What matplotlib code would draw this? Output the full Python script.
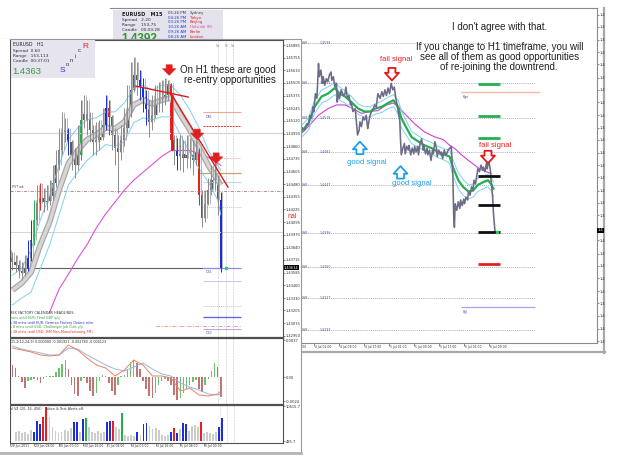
import numpy as np
import matplotlib
matplotlib.use("Agg")
import matplotlib.pyplot as plt
from matplotlib.patches import Rectangle

plt.rcParams['font.family'] = ['DejaVu Sans']

# ===================== DATA =====================
# ---- Left window: EURUSD H1 (one candle per two hourly bars) ----
h1_open0 = 1.4370
h1_close = [1.4373, 1.4369, 1.4366, 1.4360, 1.4358, 1.4363, 1.4373, 1.4392, 1.4412, 1.4429,
            1.4434, 1.4430, 1.4431, 1.4436, 1.4449, 1.4467, 1.4482, 1.4501, 1.4503, 1.4491,
            1.4477, 1.4467, 1.4477, 1.4513, 1.4519, 1.4513, 1.4503, 1.4491, 1.4493, 1.4496,
            1.4508, 1.4525, 1.4516, 1.4498, 1.4485, 1.4480, 1.4493, 1.4505, 1.4521, 1.4543,
            1.4558, 1.4553, 1.4546, 1.4536, 1.4524, 1.4511, 1.4518, 1.4530, 1.4534, 1.4534,
            1.4538, 1.4549, 1.4493, 1.4482, 1.4476, 1.4478, 1.4474, 1.4477, 1.4477, 1.4472,
            1.4480, 1.4437, 1.4414, 1.4428, 1.4442, 1.4452, 1.4454, 1.4432, 1.4363]
h1_high = [1.4381, 1.4379, 1.4376, 1.4371, 1.4369, 1.4376, 1.4392, 1.4412, 1.4432, 1.4447,
           1.4449, 1.4444, 1.4447, 1.4452, 1.4467, 1.4482, 1.4505, 1.4521, 1.4515, 1.4505,
           1.4493, 1.4485, 1.4508, 1.4533, 1.4538, 1.4533, 1.4521, 1.4508, 1.4511, 1.4513,
           1.4525, 1.4538, 1.4533, 1.4518, 1.4505, 1.4498, 1.4508, 1.4525, 1.4548, 1.4571,
           1.4576, 1.4571, 1.4563, 1.4555, 1.4543, 1.4533, 1.4538, 1.4548, 1.4551, 1.4553,
           1.4555, 1.4553, 1.4550, 1.4498, 1.4495, 1.4498, 1.4493, 1.4498, 1.4495, 1.4493,
           1.4493, 1.4485, 1.4442, 1.4442, 1.4454, 1.4467, 1.4472, 1.4457, 1.4440]
h1_low = [1.4363, 1.4361, 1.4359, 1.4353, 1.4351, 1.4355, 1.4360, 1.4370, 1.4387, 1.4407,
          1.4422, 1.4420, 1.4422, 1.4427, 1.4432, 1.4445, 1.4462, 1.4478, 1.4491, 1.4477,
          1.4462, 1.4454, 1.4462, 1.4472, 1.4505, 1.4498, 1.4491, 1.4477, 1.4477, 1.4482,
          1.4493, 1.4503, 1.4498, 1.4482, 1.4467, 1.4439, 1.4472, 1.4487, 1.4500, 1.4516,
          1.4541, 1.4538, 1.4533, 1.4521, 1.4508, 1.4496, 1.4503, 1.4515, 1.4521, 1.4521,
          1.4528, 1.4533, 1.4482, 1.4467, 1.4462, 1.4462, 1.4460, 1.4464, 1.4464, 1.4457,
          1.4467, 1.4427, 1.4405, 1.4410, 1.4427, 1.4437, 1.4442, 1.4417, 1.4359]
h1_kind = ("gggggg" "bb" "G" "g" "r" "gggggggg" "b" "ggg" "G" "ggggggg" "b" "r"
           "ggggggggg" "bbb" "ggggggg" "r" "g" "b" "gggggg" "r" "gggggg" "b")

rib_pos = [1, 4, 7, 10, 13, 16, 19, 22, 25, 28, 31, 34, 37, 40, 43, 46, 49, 52, 55, 58, 61, 64, 67, 68]
rib_mid = [1.4341, 1.4348, 1.4359, 1.4387, 1.4410, 1.4442, 1.4469, 1.4482, 1.4493, 1.4498, 1.4505, 1.4504,
           1.4511, 1.4528, 1.4533, 1.4529, 1.4533, 1.4535, 1.4518, 1.4503, 1.4485, 1.4467, 1.4452, 1.4447]
rib_up = [1.4356, 1.4363, 1.4382, 1.4412, 1.4437, 1.4467, 1.4493, 1.4505, 1.4513, 1.4515, 1.4521, 1.4521,
          1.4530, 1.4545, 1.4548, 1.4543, 1.4548, 1.4548, 1.4538, 1.4523, 1.4505, 1.4482, 1.4467, 1.4462]
rib_dn = [1.4326, 1.4333, 1.4339, 1.4363, 1.4387, 1.4417, 1.4447, 1.4460, 1.4472, 1.4480, 1.4488, 1.4486,
          1.4491, 1.4510, 1.4515, 1.4513, 1.4516, 1.4516, 1.4498, 1.4480, 1.4464, 1.4450, 1.4432, 1.4417]

h1_mag_pos = [13, 16, 19, 22, 25, 28, 31, 34, 37, 40, 43, 46, 49, 52, 55, 58, 61, 64, 66, 68]
h1_mag_val = [1.4319, 1.4342, 1.4357, 1.4373, 1.4387, 1.4404, 1.4418, 1.4430, 1.4442, 1.4452,
              1.4460, 1.4468, 1.4476, 1.4482, 1.4482, 1.4482, 1.4479, 1.4475, 1.4471, 1.4467]

tl1_pos, tl1_val = [40.7, 57.5], [1.4547, 1.4536]
tl2_pos, tl2_val = [51.7, 70.3], [1.4541, 1.4445]
tl3_pos, tl3_val = [52.3, 52.3], [1.4538, 1.4482]
h1_arrow_pos = [51.4, 60.4, 66.5]
h1_arrow_val = [1.4558, 1.4493, 1.4469]

h1_axis = [1.45885, 1.45755, 1.45630, 1.45505, 1.45375, 1.45245, 1.45120, 1.44990, 1.44860,
           1.44735, 1.44605, 1.44480, 1.44355, 1.44225, 1.44095, 1.43970, 1.43840, 1.43715,
           1.43585, 1.43460, 1.43330, 1.43205, 1.43075, 1.42950]
h1_bid = 1.43634
h1_tick_pos = [-2, 6, 14, 22, 30, 38, 46, 54, 62]
h1_tick_labels = ["28 Jun 2011", "29 Jun 08:00", "30 Jun 00:00", "30 Jun 16:00", "1 Jul 08:00",
                  "4 Jul 00:00", "4 Jul 16:00", "5 Jul 08:00", "6 Jul 00:00"]
day_sep_pos = [67.1, 69.7, 71.9]
day_sep_lab = ["Sa", "N", "Sa"]

macd_hist = [0.0014, 0.0012, 0.0009, 0.0001, -0.0005, -0.0011, -0.0004, -0.0003, -0.0002, -0.0003,
             -0.0006, -0.0002, 0.0001, 0.0001, 0.0001, 0.0005, 0.0009, 0.0013, 0.0017, 0.0008,
             -0.0008, -0.0017, -0.0019, -0.0004, -0.0001, -0.0006, -0.0014, -0.0019, -0.0016, -0.0004,
             0.0002, 0.0001, -0.0006, -0.0014, -0.0018, -0.0008, 0.0001, 0.0002, 0.0008, 0.0015,
             0.0017, 0.0014, 0.0008, -0.0004, -0.0012, -0.0019, -0.0021, -0.0016, -0.0008, -0.0004,
             -0.0002, -0.0004, -0.0008, -0.0018, -0.0023, -0.0021, -0.0016, -0.0012, -0.0008, -0.0005,
             -0.0003, -0.0012, -0.0015, -0.0008, -0.0002, 0.0006, 0.0014, 0.0010, -0.0020]
macd_line_pos = [1, 4, 7, 10, 13, 16, 19, 22, 25, 28, 31, 34, 37, 40, 43, 46, 49, 52, 55, 58, 61, 64, 67, 68]
macd_main = [0.0029, 0.0027, 0.0025, 0.0022, 0.0021, 0.0022, 0.0032, 0.0027, 0.0019, 0.0012, 0.0009, 0.0001,
             0.0007, 0.0017, 0.0012, 0.0001, 0.0001, -0.0001, -0.0014, -0.0011, -0.0018, -0.0019, -0.0017, -0.0014]
macd_signal = [0.0031, 0.0028, 0.0026, 0.0024, 0.0022, 0.0022, 0.0029, 0.0028, 0.0022, 0.0017, 0.0012, 0.0008,
               0.0006, 0.0010, 0.0014, 0.0008, 0.0003, 0.0001, -0.0006, -0.0010, -0.0013, -0.0017, -0.0018, -0.0017]

volume = [2700, 3000, 2400, 2700, 2100, 3300, 2700, 6000, 5100, 7200,
          10200, 7200, 4200, 3000, 2400, 2700, 3300, 3000, 3900, 5700,
          5700, 2700, 6600, 6900, 4200, 2700, 2400, 3000, 2400, 2700,
          5700, 6000, 6000, 4200, 3600, 8400, 1800, 1500, 1800, 1500,
          2700, 1800, 5100, 5400, 4500, 3600, 3900, 3300, 1800, 1500,
          1800, 2700, 3900, 2400, 3600, 5400, 5100, 3000, 4500, 4800,
          4200, 5700, 2400, 2700, 2400, 2100, 2700, 4200, 6900]
vol_kind = ("gggggg" "bbb" "rr" "gggggggg" "bb" "g" "b" "G" "gggggg" "bb" "r" "gg" "G" "gggg"
            "b" "g" "bb" "ggggggg" "b" "r" "b" "g" "bb" "gggg" "r" "ggggg" "bb")

# ---- Right window: EURUSD M15 (bar index, 0 = 4 Jul 01:00) ----
m15_pos = [-18, -15, -12, -9, -7, -5, -3, -1, 0, 2, 4, 6, 7, 9, 11, 12, 14, 16, 18, 20,
           22, 23, 25, 27, 29, 30, 31, 33, 35, 38, 40, 41, 43, 45, 47, 48, 50, 53, 55, 56,
           58, 59, 61, 63, 65, 67, 69, 70, 72, 74, 76, 78, 80, 82, 85, 87, 89, 91, 93, 95,
           97, 99, 101, 103, 105, 106, 108, 110, 111, 112, 114, 116, 117, 119, 121, 122, 124, 126, 128, 129,
           131, 133, 134, 136, 138, 140, 141, 143, 145, 146, 148, 150, 152, 153, 155, 157, 158, 160, 162, 163,
           165, 167, 169, 170, 172, 174, 176, 178, 179, 180, 181, 183, 185, 187, 188, 190, 192, 193, 195, 197,
           198, 200, 202, 204, 205, 207, 209, 210, 212, 214, 216, 217, 219, 221, 222, 224, 226, 227, 229, 230, 232]
m15_close = [1.4503, 1.4508, 1.4505, 1.4512, 1.4511, 1.4521, 1.4518, 1.4530, 1.4525, 1.4544,
             1.4539, 1.4576, 1.4562, 1.4569, 1.4555, 1.4562, 1.4553, 1.4560, 1.4557, 1.4564,
             1.4567, 1.4558, 1.4562, 1.4551, 1.4555, 1.4535, 1.4544, 1.4539, 1.4548, 1.4542,
             1.4544, 1.4551, 1.4539, 1.4542, 1.4532, 1.4535, 1.4525, 1.4528, 1.4509, 1.4500,
             1.4505, 1.4514, 1.4509, 1.4519, 1.4516, 1.4521, 1.4507, 1.4512, 1.4521, 1.4525,
             1.4528, 1.4532, 1.4530, 1.4544, 1.4539, 1.4546, 1.4541, 1.4548, 1.4542, 1.4550,
             1.4544, 1.4555, 1.4548, 1.4551, 1.4539, 1.4535, 1.4525, 1.4516, 1.4495, 1.4479,
             1.4486, 1.4491, 1.4480, 1.4488, 1.4484, 1.4489, 1.4479, 1.4486, 1.4480, 1.4488,
             1.4482, 1.4488, 1.4479, 1.4491, 1.4496, 1.4484, 1.4489, 1.4480, 1.4486, 1.4479,
             1.4484, 1.4473, 1.4484, 1.4480, 1.4493, 1.4486, 1.4477, 1.4484, 1.4479, 1.4482,
             1.4475, 1.4484, 1.4479, 1.4480, 1.4484, 1.4486, 1.4488, 1.4459, 1.4417, 1.4402,
             1.4427, 1.4420, 1.4429, 1.4422, 1.4431, 1.4425, 1.4432, 1.4427, 1.4434, 1.4431,
             1.4440, 1.4436, 1.4445, 1.4441, 1.4452, 1.4448, 1.4459, 1.4464, 1.4461, 1.4468,
             1.4463, 1.4466, 1.4461, 1.4470, 1.4464, 1.4473, 1.4463, 1.4452, 1.4434, 1.4417, 1.4397]

ma_pos = [-18, -7, 1, 10, 18, 27, 33, 40, 48, 57, 65, 72, 78, 87, 95, 102, 108, 112,
          119, 125, 134, 142, 151, 159, 168, 174, 178, 185, 191, 198, 204, 210, 217, 223, 227, 230]
ma_green = [1.4502, 1.4512, 1.4530, 1.4541, 1.4544, 1.4550, 1.4544, 1.4541, 1.4535, 1.4528, 1.4525, 1.4525,
            1.4528, 1.4530, 1.4534, 1.4537, 1.4530, 1.4518, 1.4507, 1.4498, 1.4493, 1.4489, 1.4486, 1.4482,
            1.4479, 1.4477, 1.4466, 1.4452, 1.4445, 1.4440, 1.4441, 1.4447, 1.4450, 1.4452, 1.4448, 1.4443]
ma_up = [1.4508, 1.4518, 1.4537, 1.4548, 1.4551, 1.4556, 1.4551, 1.4547, 1.4541, 1.4533, 1.4530, 1.4530,
         1.4533, 1.4536, 1.4540, 1.4543, 1.4537, 1.4526, 1.4514, 1.4504, 1.4499, 1.4495, 1.4492, 1.4488,
         1.4485, 1.4484, 1.4474, 1.4460, 1.4453, 1.4447, 1.4448, 1.4454, 1.4457, 1.4458, 1.4455, 1.4450]
ma_dn = [1.4496, 1.4505, 1.4523, 1.4534, 1.4537, 1.4543, 1.4537, 1.4534, 1.4529, 1.4522, 1.4519, 1.4519,
         1.4522, 1.4524, 1.4528, 1.4530, 1.4522, 1.4508, 1.4499, 1.4491, 1.4487, 1.4483, 1.4480, 1.4476,
         1.4473, 1.4470, 1.4457, 1.4443, 1.4436, 1.4432, 1.4434, 1.4440, 1.4443, 1.4445, 1.4441, 1.4435]
m15_mag_pos = [-18, -7, 6, 18, 29, 40, 50, 61, 72, 82, 93, 102, 108, 116, 129, 142, 155, 166, 174,
               180, 189, 198, 206, 212, 221, 227]
m15_mag_val = [1.4500, 1.4509, 1.4521, 1.4528, 1.4532, 1.4532, 1.4528, 1.4523, 1.4525, 1.4526, 1.4532,
               1.4534, 1.4530, 1.4523, 1.4512, 1.4503, 1.4498, 1.4495, 1.4489, 1.4486, 1.4479, 1.4473,
               1.4468, 1.4464, 1.4461, 1.4459]
ssr_levels = [1.4598, 1.4555, 1.4518, 1.4482, 1.4447, 1.4396, 1.4360, 1.4327, 1.4293]
green_marks = [1.4554, 1.4520, 1.4497]
black_marks = [1.4456, 1.4426, 1.4397]
red_marks = [1.4363]
m15_axis = [1.4628, 1.4615, 1.4601, 1.4588, 1.4575, 1.4561, 1.4548, 1.4535, 1.4521, 1.4508, 1.4495,
            1.4481, 1.4468, 1.4455, 1.4441, 1.4428, 1.4415, 1.4388, 1.4374, 1.4361, 1.4348,
            1.4334, 1.4321, 1.4308, 1.4294, 1.4281]
m15_bid = 1.4399
m15_tick_pos = [-32, 0, 32, 64, 96, 128, 160, 192, 224]
m15_tick_labels = ["3 Jul 17:00", "4 Jul 01:00", "4 Jul 09:00", "4 Jul 17:00", "5 Jul 01:00",
                   "5 Jul 09:00", "5 Jul 17:00", "6 Jul 01:00", "6 Jul 09:00"]
fail_pos, fail_val = [100, 223], [1.4558, 1.4470]
good_pos, good_val = [59, 111], [1.4493, 1.4467]

# ===================== LAYOUT HELPERS =====================
W, H = 625, 469
fig = plt.figure(figsize=(W / 100, H / 100), dpi=100)
fig.patch.set_facecolor('white')
ARIAL = 'Liberation Sans'
TINY = 2.6
TIME = 2.2


def add_px(x0, y0, x1, y1, z):
    return fig.add_axes([x0 / W, 1 - y1 / H, (x1 - x0) / W, (y1 - y0) / H], zorder=z)


def overlay(z):
    ov = add_px(0, 0, W, H, z)
    ov.set_xlim(0, W)
    ov.set_ylim(H, 0)
    ov.set_axis_off()
    return ov


# ===================== RIGHT WINDOW (M15) =====================
ov0 = overlay(0)
ov0.plot([604, 604], [8, 353], color='#a8a8a8', lw=1.6)
ov0.plot([280, 604.8], [352.5, 352.5], color='#a8a8a8', lw=1.6)

ax_r = add_px(110, 8, 597, 343, 1)
ax_r.set_xlim(-261, 362.6)
ax_r.set_ylim(1.4279, 1.4635)
ax_r.spines['left'].set_visible(False)
for s in ('top', 'right', 'bottom'):
    ax_r.spines[s].set_color('#8a8a8a')
    ax_r.spines[s].set_linewidth(0.8)
ax_r.yaxis.tick_right()
ax_r.set_yticks(m15_axis)
ax_r.set_yticklabels(['1.4'] * len(m15_axis))
ax_r.tick_params(axis='y', labelsize=TINY, length=1.5, width=0.4, pad=0.6, colors='#303030')
ax_r.set_xticks(m15_tick_pos)
ax_r.set_xticklabels([])
ax_r.tick_params(axis='x', length=2, width=0.4, color='#303030')
for p, lab in zip(m15_tick_pos, m15_tick_labels):
    ax_r.text(p + 1, -0.013, lab, transform=ax_r.get_xaxis_transform(), ha='left', va='center',
              fontsize=TIME, color='#303030', clip_on=False)

for v in ssr_levels:
    ax_r.hlines(v, -261, 283, colors='#9a9a9a', linestyles=(0, (1, 1.3)), lw=0.6)
    ax_r.text(-15, v, 'SSR', fontsize=2.3, color='#5050a0', va='center', ha='left')
    ax_r.text(7, v, f'{v:.4f}', fontsize=2.3, color='#5050a0', va='center', ha='left')

ax_r.hlines(1.4546, 189, 289, colors='#f4b8a8', lw=1.0)
ax_r.text(190, 1.4543, 'Kgri', fontsize=2.3, color='#5050a0', va='top')
ax_r.hlines(1.4317, 189, 283, colors='#a0a8e8', lw=0.9)
ax_r.text(190, 1.4314, 'Pgl.', fontsize=2.3, color='#5050a0', va='top')

ax_r.plot(m15_mag_pos, m15_mag_val, color='#d040d8', lw=0.8)
ax_r.plot(ma_pos, ma_up, color='#80d0f0', lw=0.7)
ax_r.plot(ma_pos, ma_dn, color='#80d0f0', lw=0.7)
ax_r.plot(ma_pos, ma_green, color='#22b050', lw=1.6)
ax_r.plot(m15_pos, m15_close, color='#6c6c88', lw=1.15)

ax_r.hlines(green_marks, 210, 238, colors='#22b050', lw=2.0)
ax_r.hlines(black_marks, 210, 238, colors='#101010', lw=2.0)
ax_r.hlines(red_marks, 210, 238, colors='#e02020', lw=2.0)
ax_r.plot([234], [1.4397], 's', ms=2, color='#20d050')
ax_r.text(1.002, m15_bid, '1.4', transform=ax_r.get_yaxis_transform(), fontsize=TINY, color='white',
          va='center', ha='left', bbox=dict(boxstyle='square,pad=0.15', fc='black', ec='none'))

simple = 'simple,head_length=0.55,head_width=1.0,tail_width=0.5'
for p, v in zip(fail_pos, fail_val):
    ax_r.annotate('', xy=(p, v), xytext=(0, 9), textcoords='offset points',
                  arrowprops=dict(arrowstyle=simple, fc='white', ec='#e01818', lw=1.3,
                                  mutation_scale=10, shrinkA=0, shrinkB=0))
for p, v in zip(good_pos, good_val):
    ax_r.annotate('', xy=(p, v), xytext=(0, -9), textcoords='offset points',
                  arrowprops=dict(arrowstyle=simple, fc='white', ec='#1ea0e8', lw=1.3,
                                  mutation_scale=10, shrinkA=0, shrinkB=0))
ax_r.text(106, 1.4580, 'fail signal', color='#f02020', fontsize=5.5, family=ARIAL, ha='center', va='center')
ax_r.text(232, 1.4489, 'fail signal', color='#f02020', fontsize=5.5, family=ARIAL, ha='center', va='center')
ax_r.text(68, 1.4471, 'good signal', color='#1ea0e8', fontsize=5.5, family=ARIAL, ha='center', va='center')
ax_r.text(125, 1.4448, 'good signal', color='#1ea0e8', fontsize=5.5, family=ARIAL, ha='center', va='center')

# right-window info box
ov1 = overlay(2)
ov1.add_patch(Rectangle((113, 10), 110, 31, fc='#e4e2ec', ec='none'))
ov1.text(122, 14, 'EURUSD   M15', fontsize=3.6, weight='bold', color='#202020', va='center')
for i, t in enumerate(['Spread   2.20', 'Range    153,75', 'Candle   00:03:28']):
    ov1.text(122, 20 + 5 * i, t, fontsize=3.1, color='#303030', va='center')
ov1.text(121, 38.5, '1.4392', fontsize=8.5, weight='bold', color='#2a9a2a', va='center', family=ARIAL)
sess_t = ['05:26 PM', '04:26 PM', '03:26 PM', '10:26 AM', '09:26 AM', '08:26 AM']
sess_n = ['Sydney', 'Tokyo', 'Beijing', 'Helsinki (R)', 'Berlin', 'London']
sess_c = ['#404040', '#e02020', '#e02020', '#e040a0', '#e02020', '#e02020']
for i in range(6):
    ov1.text(168, 13 + 4.7 * i, sess_t[i], fontsize=2.8, color='#2040d0' if i else '#303070', va='center')
    ov1.text(190, 13 + 4.7 * i, sess_n[i], fontsize=2.8, color=sess_c[i], va='center')

# ===================== LEFT WINDOW (H1) =====================
lbg = add_px(0, 39, 301, 453, 3)
lbg.set_xticks([])
lbg.set_yticks([])
lbg.set_facecolor('white')
lbg.spines['left'].set_visible(False)
lbg.spines['top'].set_color('#9a9a9a')
lbg.spines['right'].set_color('#9a9a9a')
lbg.spines['bottom'].set_color('#b4b4b4')
lbg.spines['bottom'].set_linewidth(2)

XL = (0.225, 88.0)
ax_l = add_px(10, 40, 283, 338, 4)
ax_m = add_px(10, 338, 283, 405, 4)
ax_v = add_px(10, 405, 283, 443, 4)
for a in (ax_l, ax_m, ax_v):
    a.set_xlim(*XL)
    a.set_facecolor('white')
    for s in a.spines.values():
        s.set_color('#505050')
        s.set_linewidth(0.8)
    a.yaxis.tick_right()
    a.tick_params(axis='y', labelsize=TINY, length=1.5, width=0.4, pad=0.6, colors='#303030')
    for p in day_sep_pos:
        a.axvline(p, color='#b8b8c8', ls=(0, (1, 1.2)), lw=0.5)
ax_m.spines['top'].set_linewidth(1.6)
ax_v.spines['top'].set_linewidth(1.6)

# main H1 chart
ax_l.set_ylim(1.42926, 1.45936)
ax_l.set_xticks([])
ax_l.set_yticks(h1_axis)
ax_l.set_yticklabels([f'{v:.5f}' for v in h1_axis])

ax_l.axhline(1.4500, color='#d8d0e4', lw=0.9)
ax_l.axhline(1.4441, color='#b08080', lw=0.6, ls=(0, (4, 1.5, 1, 1.5)))
ax_l.text(1.0, 1.4443, 'PVT wk', fontsize=2.3, color='#604040', va='bottom')
ax_l.axhline(1.4400, color='#d4d4d4', lw=0.7)
ax_l.hlines(1.4363, XL[0], 62.4, colors='#606060', lw=0.8)
ax_l.hlines(1.4363, 62.4, 74.4, colors='#8c8ce8', lw=0.9)
ax_l.text(63, 1.4361, 'DS1', fontsize=2.3, color='#6060a0', va='top')
ax_l.hlines(1.4521, 62.4, 74.4, colors='#f0a890', lw=0.8)
ax_l.text(63, 1.4518, 'DR1', fontsize=2.3, color='#6060a0', va='top')
ax_l.hlines(1.4507, 62.4, 74.4, colors='#e03030', lw=0.7, linestyles=(0, (2, 1)))
ax_l.hlines(1.4474, 62.4, 74.4, colors='#e8c0d8', lw=0.7, linestyles=(0, (2, 1)))
ax_l.hlines(1.4459, 61.0, 74.4, colors='#c8a060', lw=0.9)
ax_l.hlines(1.4450, 62.4, 74.4, colors='#b0d8f0', lw=0.7)
ax_l.hlines(1.4425, 62.4, 74.4, colors='#c8c8c8', lw=0.7, linestyles=(0, (1, 1)))
ax_l.hlines(1.4350, 62.4, 74.4, colors='#c8c8f0', lw=0.7)
ax_l.hlines(1.4325, 62.4, 74.4, colors='#e8b0c8', lw=0.7, linestyles=(0, (1, 1)))
ax_l.hlines(1.4314, 62.4, 74.4, colors='#6868e0', lw=1.0)
ax_l.hlines(1.4305, 47.2, 74.4, colors='#e8a090', lw=0.7, linestyles=(0, (4, 1.5, 1, 1.5)))
ax_l.hlines(1.4302, 62.4, 74.4, colors='#b0b0e0', lw=0.8)
ax_l.text(63, 1.4300, 'DS2', fontsize=2.3, color='#6060a0', va='top')
for p, lab in zip(day_sep_pos, day_sep_lab):
    ax_l.text(p, 1.4588, lab, fontsize=2.3, color='#9070c0', ha='center', va='center')

ax_l.plot(h1_mag_pos, h1_mag_val, color='#e050e0', lw=0.8)
ax_l.plot(rib_pos, rib_mid, color='#a8a8a8', lw=4.2, solid_capstyle='butt')
ax_l.plot(rib_pos, rib_mid, color='#d6d6d6', lw=2.4, solid_capstyle='butt')
ax_l.plot(rib_pos, rib_up, color='#80d0f2', lw=0.7)
ax_l.plot(rib_pos, rib_dn, color='#80d0f2', lw=0.7)

pos = np.arange(len(h1_close))
c = np.array(h1_close)
o = np.r_[h1_open0, c[:-1]]
cmap_body = {'g': '#5a5a66', 'b': '#1a2ee0', 'r': '#e82020', 'G': '#22b04a'}
cmap_wick = {'g': '#8c8c8c', 'b': '#1a2ee0', 'r': '#e82020', 'G': '#22b04a'}
ax_l.vlines(pos, h1_low, h1_high, colors=[cmap_wick[k] for k in h1_kind], lw=0.7)
ax_l.vlines(pos + 0.5, np.minimum(o, c), h1_high, colors='#9a9a9a', lw=0.5)
ax_l.bar(pos, np.maximum(np.abs(c - o), 0.00008), bottom=np.minimum(o, c), width=0.7,
         color=[cmap_body[k] for k in h1_kind])

ax_l.plot(tl1_pos, tl1_val, color='#e01818', lw=1.0)
ax_l.plot(tl2_pos, tl2_val, color='#e01818', lw=1.0)
ax_l.plot(tl3_pos, tl3_val, color='#e01818', lw=1.0)
for p, v in zip(h1_arrow_pos, h1_arrow_val):
    ax_l.annotate('', xy=(p, v), xytext=(0, 7.5), textcoords='offset points',
                  arrowprops=dict(arrowstyle='simple,head_length=0.55,head_width=1.1,tail_width=0.5',
                                  fc='#e02020', ec='#e02020', lw=0.5, mutation_scale=8.5,
                                  shrinkA=0, shrinkB=0))
ax_l.plot([69.7], [1.4363], 's', ms=2, color='#30d060')
ax_l.text(1.004, h1_bid, f'{h1_bid:.5f}', transform=ax_l.get_yaxis_transform(), fontsize=TINY,
          color='white', va='center', ha='left',
          bbox=dict(boxstyle='square,pad=0.15', fc='black', ec='none'))

# MACD panel
ax_m.set_ylim(-0.0028, 0.0039)
ax_m.set_xticks([])
ax_m.set_yticks([0.0037, 0.0, -0.0024])
ax_m.set_yticklabels(['0.0037', '0.00', '-0.0024'])
hist = np.array(macd_hist)
rising = np.r_[True, hist[1:] >= hist[:-1]]
ax_m.bar(pos, hist, width=0.5, color=['#6cc06c' if r else '#c07474' for r in rising])
ax_m.plot(macd_line_pos, macd_signal, color='#98b4ec', lw=0.7)
ax_m.plot(macd_line_pos, macd_main, color='#f08060', lw=0.7)

# Volume panel
ax_v.set_ylim(-600, 10800)
ax_v.set_yticks([10400, 0])
ax_v.set_yticklabels(['10615.7', '485.7'])
vcol = {'g': '#cccccc', 'b': '#1a2ee0', 'r': '#e82020', 'G': '#22b04a'}
ax_v.bar(pos, volume, width=0.6, color=[vcol[k] for k in vol_kind])
ax_v.set_xticks(h1_tick_pos)
ax_v.set_xticklabels([])
ax_v.tick_params(axis='x', length=2, width=0.4, color='#303030')
for p, lab in zip(h1_tick_pos, h1_tick_labels):
    ax_v.text(p + 0.3, -0.08, lab, transform=ax_v.get_xaxis_transform(), ha='left', va='center',
              fontsize=TIME, color='#303030', clip_on=False)

# ===================== TOP OVERLAY TEXT =====================
ov2 = overlay(10)
ov2.add_patch(Rectangle((0, 39.5), 9.6, 413, fc='white', ec='none'))
ov2.add_patch(Rectangle((10.5, 40.5), 84.5, 37.5, fc='#e6e4ee', ec='none'))
ov2.text(13, 45, 'EURUSD   H1', fontsize=3.3, color='#202020', va='center')
for i, t in enumerate(['Spread  0.60', 'Range   153,113', 'Candle  00:37:01']):
    ov2.text(13, 51 + 5 * i, t, fontsize=3.1, color='#303030', va='center')
ov2.text(12, 71, '1.4363', fontsize=6.8, color='#3a9a3a', va='center', family=ARIAL)
for ch, x, y, col, fs in [('S', 62, 71, '#3030e0', 6), ('o', 67, 64, '#303030', 4.2),
                          ('n', 71, 60, '#303030', 4.2), ('i', 75, 56, '#303030', 4.2),
                          ('c', 79, 51, '#303030', 4.2), ('R', 85, 46, '#e02020', 6)]:
    ov2.text(x, y, ch, fontsize=fs, color=col, ha='center', va='center', family=ARIAL)

ov2.text(228, 70, 'On H1 these are good', fontsize=7, family=ARIAL, color='#202020', ha='center', va='center')
ov2.text(230, 80, 're-entry opportunities', fontsize=7, family=ARIAL, color='#202020', ha='center', va='center')
ov2.text(500, 27, "I don't agree with that.", fontsize=7, family=ARIAL, color='#202020', ha='center', va='center')
ov2.text(500, 47, 'If you change to H1 timeframe, you will', fontsize=7, family=ARIAL, color='#202020', ha='center', va='center')
ov2.text(500, 57, 'see all of them as good opportunities', fontsize=7, family=ARIAL, color='#202020', ha='center', va='center')
ov2.text(499, 67, 'of re-joining the downtrend.', fontsize=7, family=ARIAL, color='#202020', ha='center', va='center')

cal = [('REX FACTORY CALENDAR HEADLINES:', '#303030'),
       ('mins until EUR: Final GDP q/q', '#30a030'),
       ('s 38 mins until EUR: German Factory Orders m/m', '#3030d0'),
       ('s 8 mins until USD: Challenger Job Cuts y/y', '#30a030'),
       ('s 38 mins until USD: ISM Non-Manufacturing PMI', '#e03030')]
for i, (t, col) in enumerate(cal):
    ov2.text(10.5, 313 + 4.8 * i, t, fontsize=2.4, color=col, va='center')
ov2.text(10.5, 342, 'CD-2(12,24,9) 0.000000 -0.001921 -0.002780 -0.004123', fontsize=2.4,
         color='#303030', va='center')
ov2.text(10.5, 409, 'ol V4 (20, 16, 456)    Voice & Text Alerts off.', fontsize=2.4,
         color='#303030', va='center')
ov2.text(288, 216, 'nal', fontsize=5.0, color='#f02020', family=ARIAL, va='center')

fig.savefig('out.png', dpi=100)
